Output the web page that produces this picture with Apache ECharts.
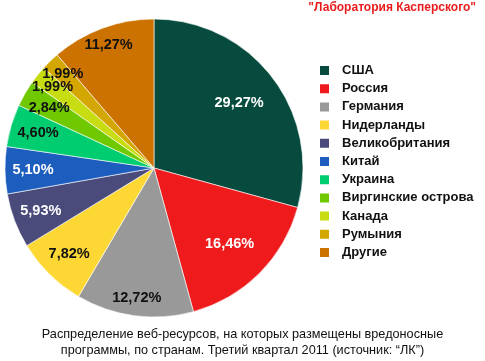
<!DOCTYPE html>
<html><head><meta charset="utf-8">
<script src="https://cdn.jsdelivr.net/npm/echarts@6/dist/echarts.min.js"></script>
<style>html,body{margin:0;padding:0;background:#fff}#c{width:485px;height:361px}</style>
</head><body><div id="c"></div>
<script>
const categories = ['США','Россия','Германия','Нидерланды','Великобритания','Китай','Украина','Виргинские острова','Канада','Румыния','Другие'];
const values = [29.27,16.46,12.72,7.82,5.93,5.10,4.60,2.84,1.99,1.99,11.27];
const colors = ['#064B3E','#EE1A1C','#999999','#FDD734','#4A4B7B','#1D5DBE','#00CC70','#70C900','#C8DC12','#D4A600','#CC7200'];
const labelColors = ['#fff','#fff','#111','#111','#fff','#fff','#111','#111','#111','#111','#111'];
const titleText = '"Лаборатория Касперского"';
const captionText = 'Распределение веб-ресурсов, на которых размещены вредоносные\nпрограммы, по странам. Третий квартал 2011 (источник: “ЛК”)';
// label ring group per slice
const labelGroup = [0,0,2,1,1,1,1,1,3,2,2];
const ringInner = [58, 86, 106, 104];

const chart = echarts.init(document.getElementById('c'), null, {renderer:'canvas'});
const fmt = v => v.toFixed(2).replace('.', ',') + '%';
const labelSeries = ringInner.map((r0, g) => ({
  type:'pie', center:[154,168], radius:[r0,150], startAngle:90, clockwise:true, silent:true,
  legendHoverLink:false, emphasis:{disabled:true}, avoidLabelOverlap:false,
  labelLayout:{hideOverlap:false},
  itemStyle:{color:'rgba(0,0,0,0)', borderWidth:0},
  label:{show:true, position:'inside', fontFamily:'Liberation Sans, Arial', fontWeight:'bold', fontSize:14.5},
  labelLine:{show:false},
  data: categories.map((c,i)=>({name:c+' #'+g, value:values[i],
    label:{show: labelGroup[i]===g, color:labelColors[i], formatter:fmt(values[i])}}))
}));
chart.setOption({
  animation:false,
  color: colors,
  title:[
    {text:titleText, right:9, top:2, padding:0, textStyle:{color:'#E81C1C', fontFamily:'Liberation Sans, Arial', fontWeight:'bold', fontSize:12}},
    {text:captionText, left:'center', top:326, padding:0, textStyle:{color:'#111', fontFamily:'Liberation Sans, Arial', fontWeight:'normal', fontSize:12.7, lineHeight:16, align:'center'}}
  ],
  legend:{
    orient:'vertical', left:318, top:64, padding:0, itemWidth:11, itemHeight:11, itemGap:5.2, icon:'rect',
    textStyle:{color:'#111', fontFamily:'Liberation Sans, Arial', fontWeight:'bold', fontSize:13, padding:[0,0,0,7]},
    data: categories
  },
  series:[
    {type:'pie', center:[154,168], radius:[0,149], startAngle:90, clockwise:true,
     label:{show:false}, labelLine:{show:false}, emphasis:{disabled:true},
     itemStyle:{borderColor:'#fff', borderWidth:0.6},
     data: categories.map((c,i)=>({name:c, value:values[i]}))}
  ].concat(labelSeries)
});
</script></body></html>
